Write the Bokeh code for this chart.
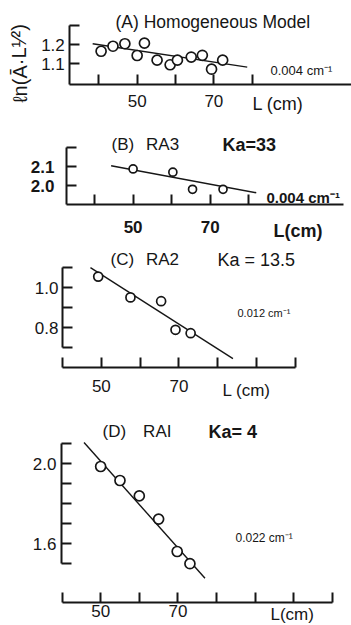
from bokeh.plotting import figure
from bokeh.models import Label, FixedTicker, Range1d, PrintfTickFormatter
from bokeh.layouts import column
from bokeh.embed import file_html
from bokeh.resources import INLINE

FONT = "Liberation Sans"
INK = "#161616"

# ---------------- data ----------------
# (A) Homogeneous Model
a_L = [40.6, 43.7, 46.8, 50.0, 51.9, 55.2, 58.6, 60.5, 64.1, 67.0, 69.4, 72.3]
a_v = [1.165, 1.191, 1.204, 1.143, 1.207, 1.119, 1.095, 1.119, 1.135, 1.144, 1.072, 1.119]
a_fit_L = [38.4, 78.7]
a_fit_v = [1.204, 1.083]

# (B) RA3, Ka = 33
b_L = [50.0, 60.3, 65.4, 73.3]
b_v = [2.087, 2.070, 1.980, 1.980]
b_fit_L = [44.3, 81.9]
b_fit_v = [2.104, 1.962]

# (C) RA2, Ka = 13.5
c_L = [49.2, 57.5, 65.4, 69.1, 73.0]
c_v = [1.056, 0.952, 0.933, 0.790, 0.773]
c_fit_L = [47.2, 83.9]
c_fit_v = [1.101, 0.646]

# (D) RA1, Ka = 4
d_L = [50.0, 55.0, 60.0, 65.0, 69.8, 73.1]
d_v = [1.985, 1.915, 1.838, 1.722, 1.560, 1.499]
d_fit_L = [45.7, 77.0]
d_fit_v = [2.105, 1.426]

x_major = [50, 70]
a_x_minor = [40, 60, 80]
c_x_minor = [40, 60, 80, 90, 100]
d_x_minor = [40, 60, 80, 90, 100, 110]

a_y_major, a_y_minor = [1.1, 1.2], [1.3]
b_y_major, b_y_minor = [2.0, 2.1], [2.2]
c_y_major, c_y_minor = [0.8, 1.0], [0.7, 0.9, 1.1]
d_y_major, d_y_minor = [1.6, 2.0], [1.5, 1.7, 1.8, 1.9, 2.1]

W = 351
GAP = "\u2002\u2009"
GAP_D = "\u2002\u2002"


class Panel:
    """One stacked panel; its frame fills the whole figure, axes sit at fixed data locations."""

    def __init__(self, top, height, yaxis_x, xaxis_y, x0_px, x0_val, ppx, y0_px, y0_val, ppy):
        self.x0_px, self.x0_val, self.ppx = x0_px, x0_val, ppx
        self.y0_px, self.y0_val, self.ppy = y0_px, y0_val, ppy
        xs, xe = self.dx(0), self.dx(W)
        ys, ye = self.dy(top + height), self.dy(top)
        self.p = figure(width=W, height=height, output_backend="svg", toolbar_location=None,
                        title=None, x_range=Range1d(xs, xe), y_range=Range1d(ys, ye),
                        min_border_left=0, min_border_right=0, min_border_top=0,
                        min_border_bottom=0)
        p = self.p
        p.outline_line_color = None
        p.grid.visible = False
        p.background_fill_color = "white"
        p.border_fill_color = "white"
        self.xloc = self.dy(xaxis_y)
        self.yloc = self.dx(yaxis_x)
        p.xaxis.fixed_location = self.xloc
        p.yaxis.fixed_location = self.yloc
        for ax in (p.xaxis[0], p.yaxis[0]):
            ax.axis_line_width = 2
            ax.axis_line_color = INK
            ax.major_tick_line_width = 2
            ax.minor_tick_line_width = 2
            ax.major_tick_line_color = INK
            ax.minor_tick_line_color = INK
            ax.major_tick_in = 10
            ax.major_tick_out = 0
            ax.minor_tick_in = 10
            ax.minor_tick_out = 0
            ax.major_label_text_font = FONT
            ax.major_label_text_color = INK

    def dx(self, sx):
        return self.x0_val + (sx - self.x0_px) / self.ppx

    def dy(self, sy):
        return self.y0_val + (self.y0_px - sy) / self.ppy

    def text(self, sx, sy, txt, size, bold=False, align="left", angle=0.0):
        # sy is the vertical centre of the capitals
        self.p.add_layout(Label(x=self.dx(sx), y=self.dy(sy), text=txt, text_font=FONT,
                                text_font_size=f"{size}px", text_color=INK,
                                text_font_style="bold" if bold else "normal",
                                text_align=align, text_baseline="middle", angle=angle))

    def axes(self, xmaj, xmin, ymaj, ymin, xb, yb, xsize, ysize, xstand, ystand, bold=False):
        p = self.p
        xa, ya = p.xaxis[0], p.yaxis[0]
        xa.ticker = FixedTicker(ticks=xmaj, minor_ticks=xmin)
        ya.ticker = FixedTicker(ticks=ymaj, minor_ticks=ymin)
        ya.formatter = PrintfTickFormatter(format="%.1f")
        xa.bounds = (self.yloc if xb[0] is None else xb[0], xb[1])
        ya.bounds = (self.xloc if yb[0] is None else yb[0], yb[1])
        xa.major_label_text_font_size = f"{xsize}px"
        ya.major_label_text_font_size = f"{ysize}px"
        xa.major_label_standoff = xstand
        ya.major_label_standoff = ystand
        if bold:
            xa.major_label_text_font_style = "bold"
            ya.major_label_text_font_style = "bold"

    def data(self, L, v, fL, fv, size):
        self.p.line(fL, fv, line_width=1.4, color=INK)
        self.p.scatter(L, v, marker="circle", size=size, fill_color="white",
                       line_color=INK, line_width=1.7)


# ---------------- (A) ----------------
A = Panel(top=0, height=118, yaxis_x=69.3, xaxis_y=84, x0_px=98.3, x0_val=40, ppx=3.835,
          y0_px=44, y0_val=1.2, ppy=193)
A.axes(x_major, a_x_minor, a_y_major, a_y_minor, (None, A.dx(351)), (None, 1.3),
       17, 17, 10, 5)
A.data(a_L, a_v, a_fit_L, a_fit_v, 10)
A.text(115, 21, "(A) Homogeneous Model", 17.5)
A.text(270, 70, "0.004 cm\u207b\u00b9", 13)
A.text(252, 103.5, "L (cm)", 18)
A.text(19, 63, "\u2113n(\u0100\u00b7L\u00b9\u2044\u00b2)", 20, align="center", angle=1.5708)

# ---------------- (B) ----------------
B = Panel(top=118, height=124, yaxis_x=66, xaxis_y=204, x0_px=94, x0_val=40, ppx=3.86,
          y0_px=185, y0_val=2.0, ppy=190)
B.axes(x_major, a_x_minor, b_y_major, b_y_minor, (None, B.dx(343)), (None, 2.2),
       17, 17, 16, 12, bold=True)
B.data(b_L, b_v, b_fit_L, b_fit_v, 8)
B.text(111, 144, f"(B){GAP}RA3", 17)
B.text(222, 144, "Ka=33", 18, bold=True)
B.text(266, 197, "0.004 cm\u207b\u00b9", 15, bold=True)
B.text(273, 230.5, "L(cm)", 18, bold=True)

# ---------------- (C) ----------------
C = Panel(top=242, height=160, yaxis_x=62, xaxis_y=367.3, x0_px=62, x0_val=40, ppx=3.883,
          y0_px=287.3, y0_val=1.0, ppy=200)
C.axes(x_major, c_x_minor, c_y_major, c_y_minor, (40, 100), (0.7, 1.1),
       17, 17, 12, 4)
C.data(c_L, c_v, c_fit_L, c_fit_v, 9)
C.text(110, 259, f"(C){GAP}RA2", 17)
C.text(217, 259, "Ka = 13.5", 18)
C.text(237, 312.5, "0.012 cm\u207b\u00b9", 11)
C.text(222, 389.5, "L (cm)", 17)

# ---------------- (D) ----------------
D = Panel(top=402, height=223, yaxis_x=61, xaxis_y=601.5, x0_px=61.5, x0_val=40, ppx=3.865,
          y0_px=463, y0_val=2.0, ppy=200)
D.axes(x_major, d_x_minor, d_y_major, d_y_minor, (40, 110), (1.5, 2.1),
       17, 17, 3, 5)
D.data(d_L, d_v, d_fit_L, d_fit_v, 10)
D.text(102, 431, f"(D){GAP_D}RAI", 17)
D.text(208, 431, "Ka= 4", 18, bold=True)
D.text(235, 537, "0.022 cm\u207b\u00b9", 12)
D.text(270, 614, "L(cm)", 17)

layout = column(A.p, B.p, C.p, D.p, spacing=0)
open("out.html", "w").write(file_html(layout, INLINE))
